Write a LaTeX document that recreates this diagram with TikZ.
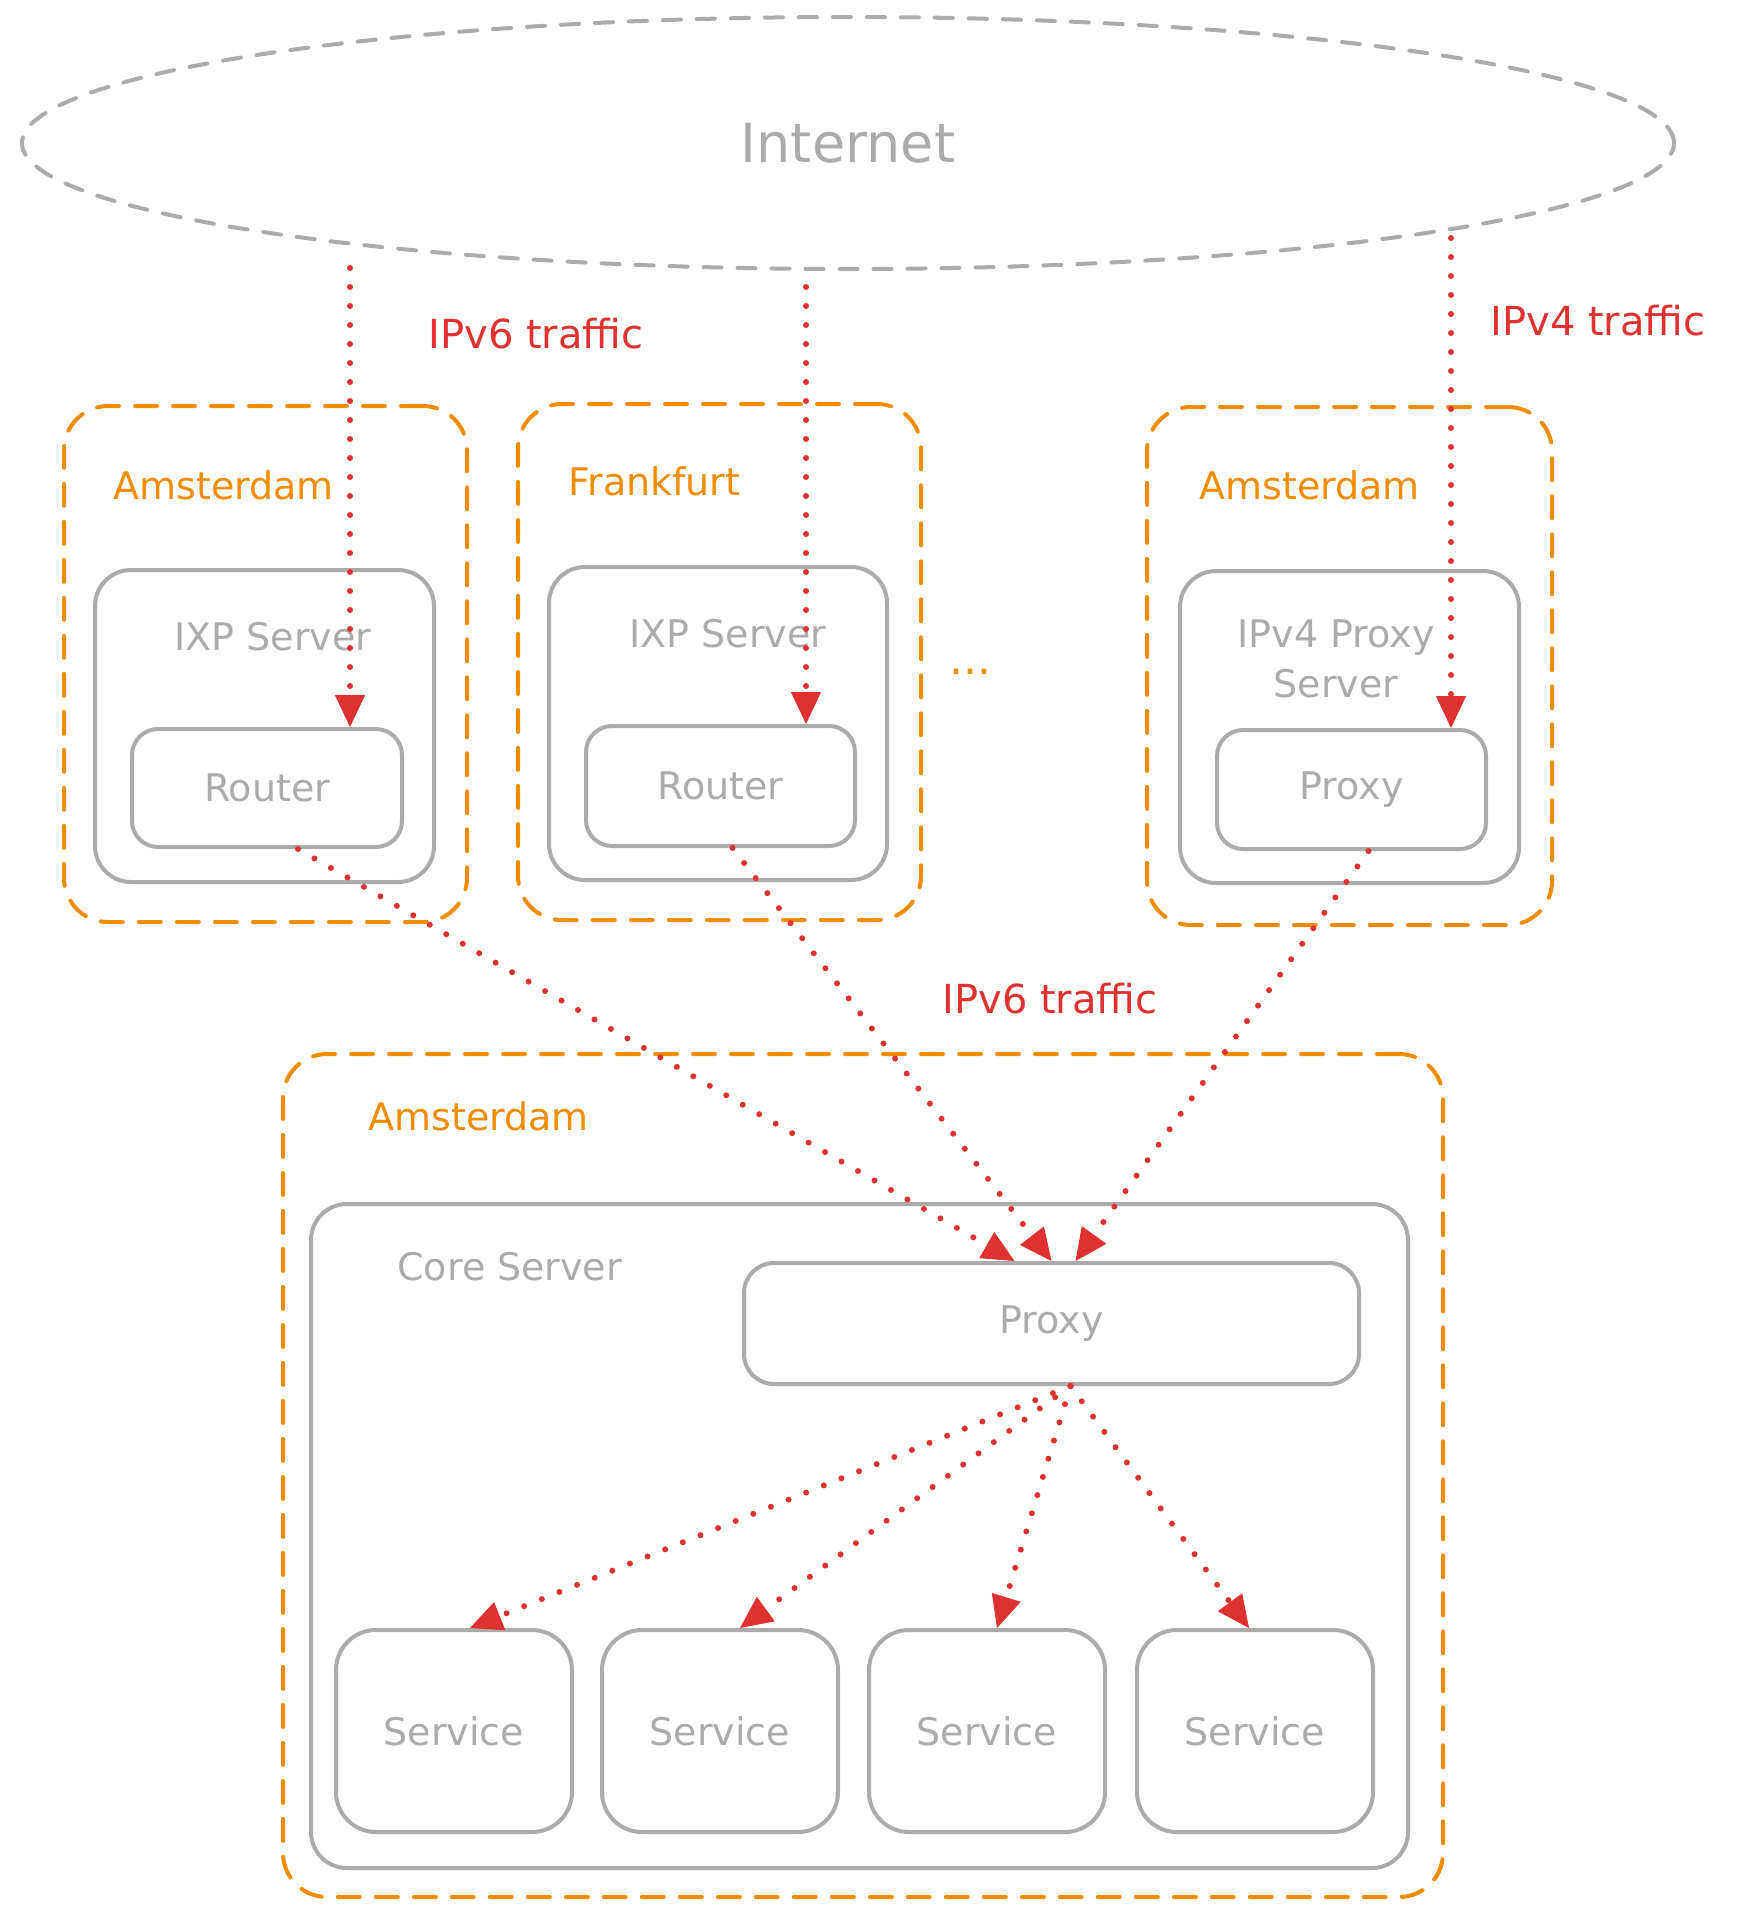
\documentclass[tikz,border=0pt]{standalone}
\usepackage{fontspec}
\setmainfont{DejaVu Sans}
\usetikzlibrary{shapes.geometric,arrows.meta,calc}
\definecolor{sketchgray}{HTML}{ABABAB}
\definecolor{siteorange}{HTML}{F08C00}
\definecolor{trafficred}{HTML}{E03131}
\tikzset{
  site/.style={draw=siteorange, line width=2pt, line cap=round,
    dash pattern=on 11pt off 8pt, rounded corners=22pt, inner sep=0pt},
  server/.style={draw=sketchgray, line width=2pt, rounded corners=18pt, inner sep=0pt,
    text=sketchgray, font=\fontsize{19}{23}\selectfont},
  inbox/.style={server, rounded corners=13pt},
  svcbox/.style={server, rounded corners=20pt, minimum width=118pt, minimum height=101pt},
  graylbl/.style={text=sketchgray, font=\fontsize{19}{25}\selectfont, inner sep=0pt},
  sitelbl/.style={text=siteorange, font=\fontsize{19}{23}\selectfont, inner sep=0pt, anchor=base west},
  redlbl/.style={text=trafficred, font=\fontsize{20}{24}\selectfont, inner sep=0pt, anchor=base west},
  traffic/.style={draw=trafficred, line width=3pt, line cap=round,
    dash pattern=on 0pt off 9.5pt,
    -{Triangle[length=16pt,width=15pt,line width=0.5pt,fill=trafficred]}}
}
\begin{document}
\begin{tikzpicture}[x=0.5pt,y=-0.5pt]
\useasboundingbox (0,0) rectangle (1744,1918);
% internet
\node[ellipse, draw=sketchgray, line width=2pt, line cap=round, dash pattern=on 9pt off 8pt,
  minimum width=826pt, minimum height=126pt, inner sep=0pt,
  text=sketchgray, font=\fontsize{27}{32}\selectfont] (inet) at (848,143) {Internet};
% sites
\node[site, minimum width=201.5pt, minimum height=258pt] (amsA) at (265.5,664) {};
\node[site, minimum width=201.5pt, minimum height=258pt] (fra) at (719.5,662) {};
\node[site, minimum width=202.5pt, minimum height=259pt] (amsB) at (1349.5,666) {};
\node[site, minimum width=580pt, minimum height=421.5pt] (amsC) at (863,1475.5) {};
\node[sitelbl] (amsAlbl) at (113,499) {Amsterdam};
\node[sitelbl] (fralbl) at (568,495) {Frankfurt};
\node[sitelbl] (amsBlbl) at (1199,499) {Amsterdam};
\node[sitelbl] (amsClbl) at (368,1130) {Amsterdam};
\node[text=siteorange, font=\fontsize{22}{26}\selectfont, inner sep=0pt] (more) at (970,672) {...};
% servers
\node[server, minimum width=169.5pt, minimum height=156pt] (ixpA) at (264.5,726) {};
\node[server, minimum width=169pt, minimum height=156.5pt] (ixpB) at (718,723.5) {};
\node[server, minimum width=169.5pt, minimum height=156pt] (pxsrv) at (1349.5,727) {};
\node[server, minimum width=548.5pt, minimum height=332pt] (core) at (859.5,1536) {};
\node[graylbl, anchor=base] (ixpAlbl) at (273,650) {IXP Server};
\node[graylbl, anchor=base] (ixpBlbl) at (728,647) {IXP Server};
\node[graylbl, anchor=base, align=center] (pxsrvlbl) at (1336,697) {IPv4 Proxy\\Server};
\node[graylbl, anchor=base west] (corelbl) at (397,1280) {Core Server};
% routers and proxies
\node[inbox, minimum width=135pt, minimum height=59pt] (rtrA) at (267,788) {Router};
\node[inbox, minimum width=134.5pt, minimum height=60pt] (rtrB) at (720.5,786) {Router};
\node[inbox, minimum width=134.5pt, minimum height=59.5pt] (proxyA) at (1351.5,789.5) {Proxy};
\node[inbox, rounded corners=15pt, minimum width=307.5pt, minimum height=60.5pt] (proxyC) at (1051.5,1323.5) {Proxy};
\foreach \i/\x in {1/454,2/720,3/987,4/1255}
  \node[svcbox] (svc\i) at (\x,1731) {Service};
% traffic
\coordinate (inA) at (350,268);
\coordinate (inB) at (806,287);
\coordinate (inC) at (1451,238);
\draw[traffic] (inA) -- (inA |- rtrA.north);
\draw[traffic] (inB) -- (inB |- rtrB.north);
\draw[traffic] (inC) -- (inC |- proxyA.north);
\node[redlbl] (v6top) at (428,348) {IPv6 traffic};
\node[redlbl] (v4top) at (1490,335) {IPv4 traffic};
\draw[traffic] ($(rtrA.south)+(31,0)$) -- ($(proxyC.north)+(-37,0)$);
\draw[traffic] ($(rtrB.south)+(12,0)$) -- (proxyC.north);
\draw[traffic] ($(proxyA.south)+(17,0)$) -- ($(proxyC.north)+(24,0)$);
\node[redlbl] (v6mid) at (942,1013) {IPv6 traffic};
\coordinate (pxOut) at ($(proxyC.south)+(19,0)$);
\foreach \i/\dx in {1/16,2/20,3/10,4/-6}
  \draw[traffic] (pxOut) -- ($(svc\i.north)+(\dx,0)$);
\end{tikzpicture}
\end{document}
